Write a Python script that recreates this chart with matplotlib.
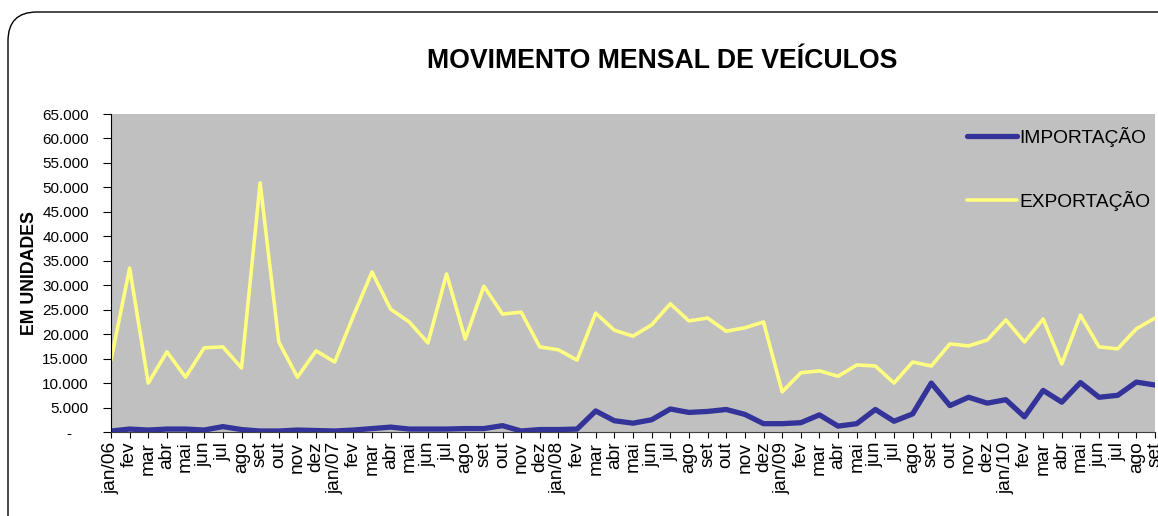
import matplotlib
matplotlib.use("Agg")
import matplotlib.pyplot as plt
from matplotlib.patches import FancyBboxPatch
from matplotlib.ticker import FuncFormatter

plt.rcParams['font.family'] = ['Liberation Sans', 'DejaVu Sans']

# meses (jan/06 a set/10)
meses = ['jan/06', 'fev', 'mar', 'abr', 'mai', 'jun', 'jul', 'ago', 'set', 'out', 'nov', 'dez',
         'jan/07', 'fev', 'mar', 'abr', 'mai', 'jun', 'jul', 'ago', 'set', 'out', 'nov', 'dez',
         'jan/08', 'fev', 'mar', 'abr', 'mai', 'jun', 'jul', 'ago', 'set', 'out', 'nov', 'dez',
         'jan/09', 'fev', 'mar', 'abr', 'mai', 'jun', 'jul', 'ago', 'set', 'out', 'nov', 'dez',
         'jan/10', 'fev', 'mar', 'abr', 'mai', 'jun', 'jul', 'ago', 'set']

importacao = [200, 600, 400, 600, 600, 400, 1100, 500, 200, 200, 400, 300,
              200, 400, 700, 1000, 600, 600, 600, 700, 700, 1300, 200, 500,
              500, 600, 4300, 2300, 1800, 2500, 4700, 4000, 4200, 4600, 3600, 1700,
              1700, 1900, 3500, 1200, 1700, 4600, 2200, 3700, 10000, 5400, 7100, 5900,
              6600, 3100, 8500, 6100, 10100, 7100, 7500, 10200, 9600]

exportacao = [14700, 33500, 10000, 16400, 11200, 17200, 17400, 13100, 50900, 18400, 11200, 16600,
              14300, 23700, 32700, 25100, 22500, 18200, 32300, 19000, 29800, 24100, 24500, 17400,
              16800, 14700, 24300, 20800, 19600, 21900, 26200, 22700, 23300, 20600, 21300, 22500,
              8200, 12100, 12500, 11400, 13700, 13500, 10000, 14300, 13500, 18000, 17600, 18800,
              22900, 18400, 23100, 13900, 23900, 17400, 17000, 21100, 23300]

W, H = 1158, 516
fig = plt.figure(figsize=(W / 100, H / 100), dpi=100)

# moldura arredondada (sai pela direita e por baixo)
moldura = FancyBboxPatch((8 / W, -0.2), 1.2, 1.2 - 12 / H,
                         boxstyle="round,pad=0,rounding_size=0.025",
                         transform=fig.transFigure, facecolor='none', edgecolor='black',
                         linewidth=1.0, mutation_aspect=W / H)
fig.patches.append(moldura)

ax = fig.add_axes([111 / W, 1 - 432 / H, (1155 - 111) / W, (432 - 114) / H])
ax.set_facecolor('#C0C0C0')

x = list(range(len(meses)))
ax.plot(x, importacao, color='#333399', linewidth=3.8, label='IMPORTAÇÃO', solid_capstyle='round')
ax.plot(x, exportacao, color='#FFFF80', linewidth=2.6, label='EXPORTAÇÃO', solid_capstyle='round')

ax.set_xlim(0, len(meses) - 1)
ax.set_ylim(0, 65000)
ax.set_yticks(range(0, 65001, 5000))
ax.yaxis.set_major_formatter(FuncFormatter(
    lambda v, p: '-    ' if v == 0 else f'{int(v):,}'.replace(',', '.')))
ax.set_xticks(x)
ax.set_xticklabels(meses, rotation=90, fontsize=13.8)
ax.tick_params(axis='y', labelsize=11, length=6, direction='out', pad=10)
ax.tick_params(axis='x', length=4, direction='out', pad=3)

for s in ['top', 'right']:
    ax.spines[s].set_visible(False)
ax.spines['left'].set_color('black')
ax.spines['bottom'].set_color('#404040')

leg = ax.legend(loc='upper left', bbox_to_anchor=(0.82, 0.96), frameon=False, fontsize=13.8,
                handlelength=2.6, handletextpad=0.12, borderpad=0, borderaxespad=0,
                labelspacing=2.3)

fig.text(662 / W, 1 - 61 / H, 'MOVIMENTO MENSAL DE VEÍCULOS', ha='center', va='center',
         fontsize=19.2, fontweight='bold')
fig.text(30 / W, 1 - 273 / H, 'EM UNIDADES', ha='center', va='center', rotation=90,
         fontsize=12.8, fontweight='bold')

fig.savefig('out.png', dpi=100)
